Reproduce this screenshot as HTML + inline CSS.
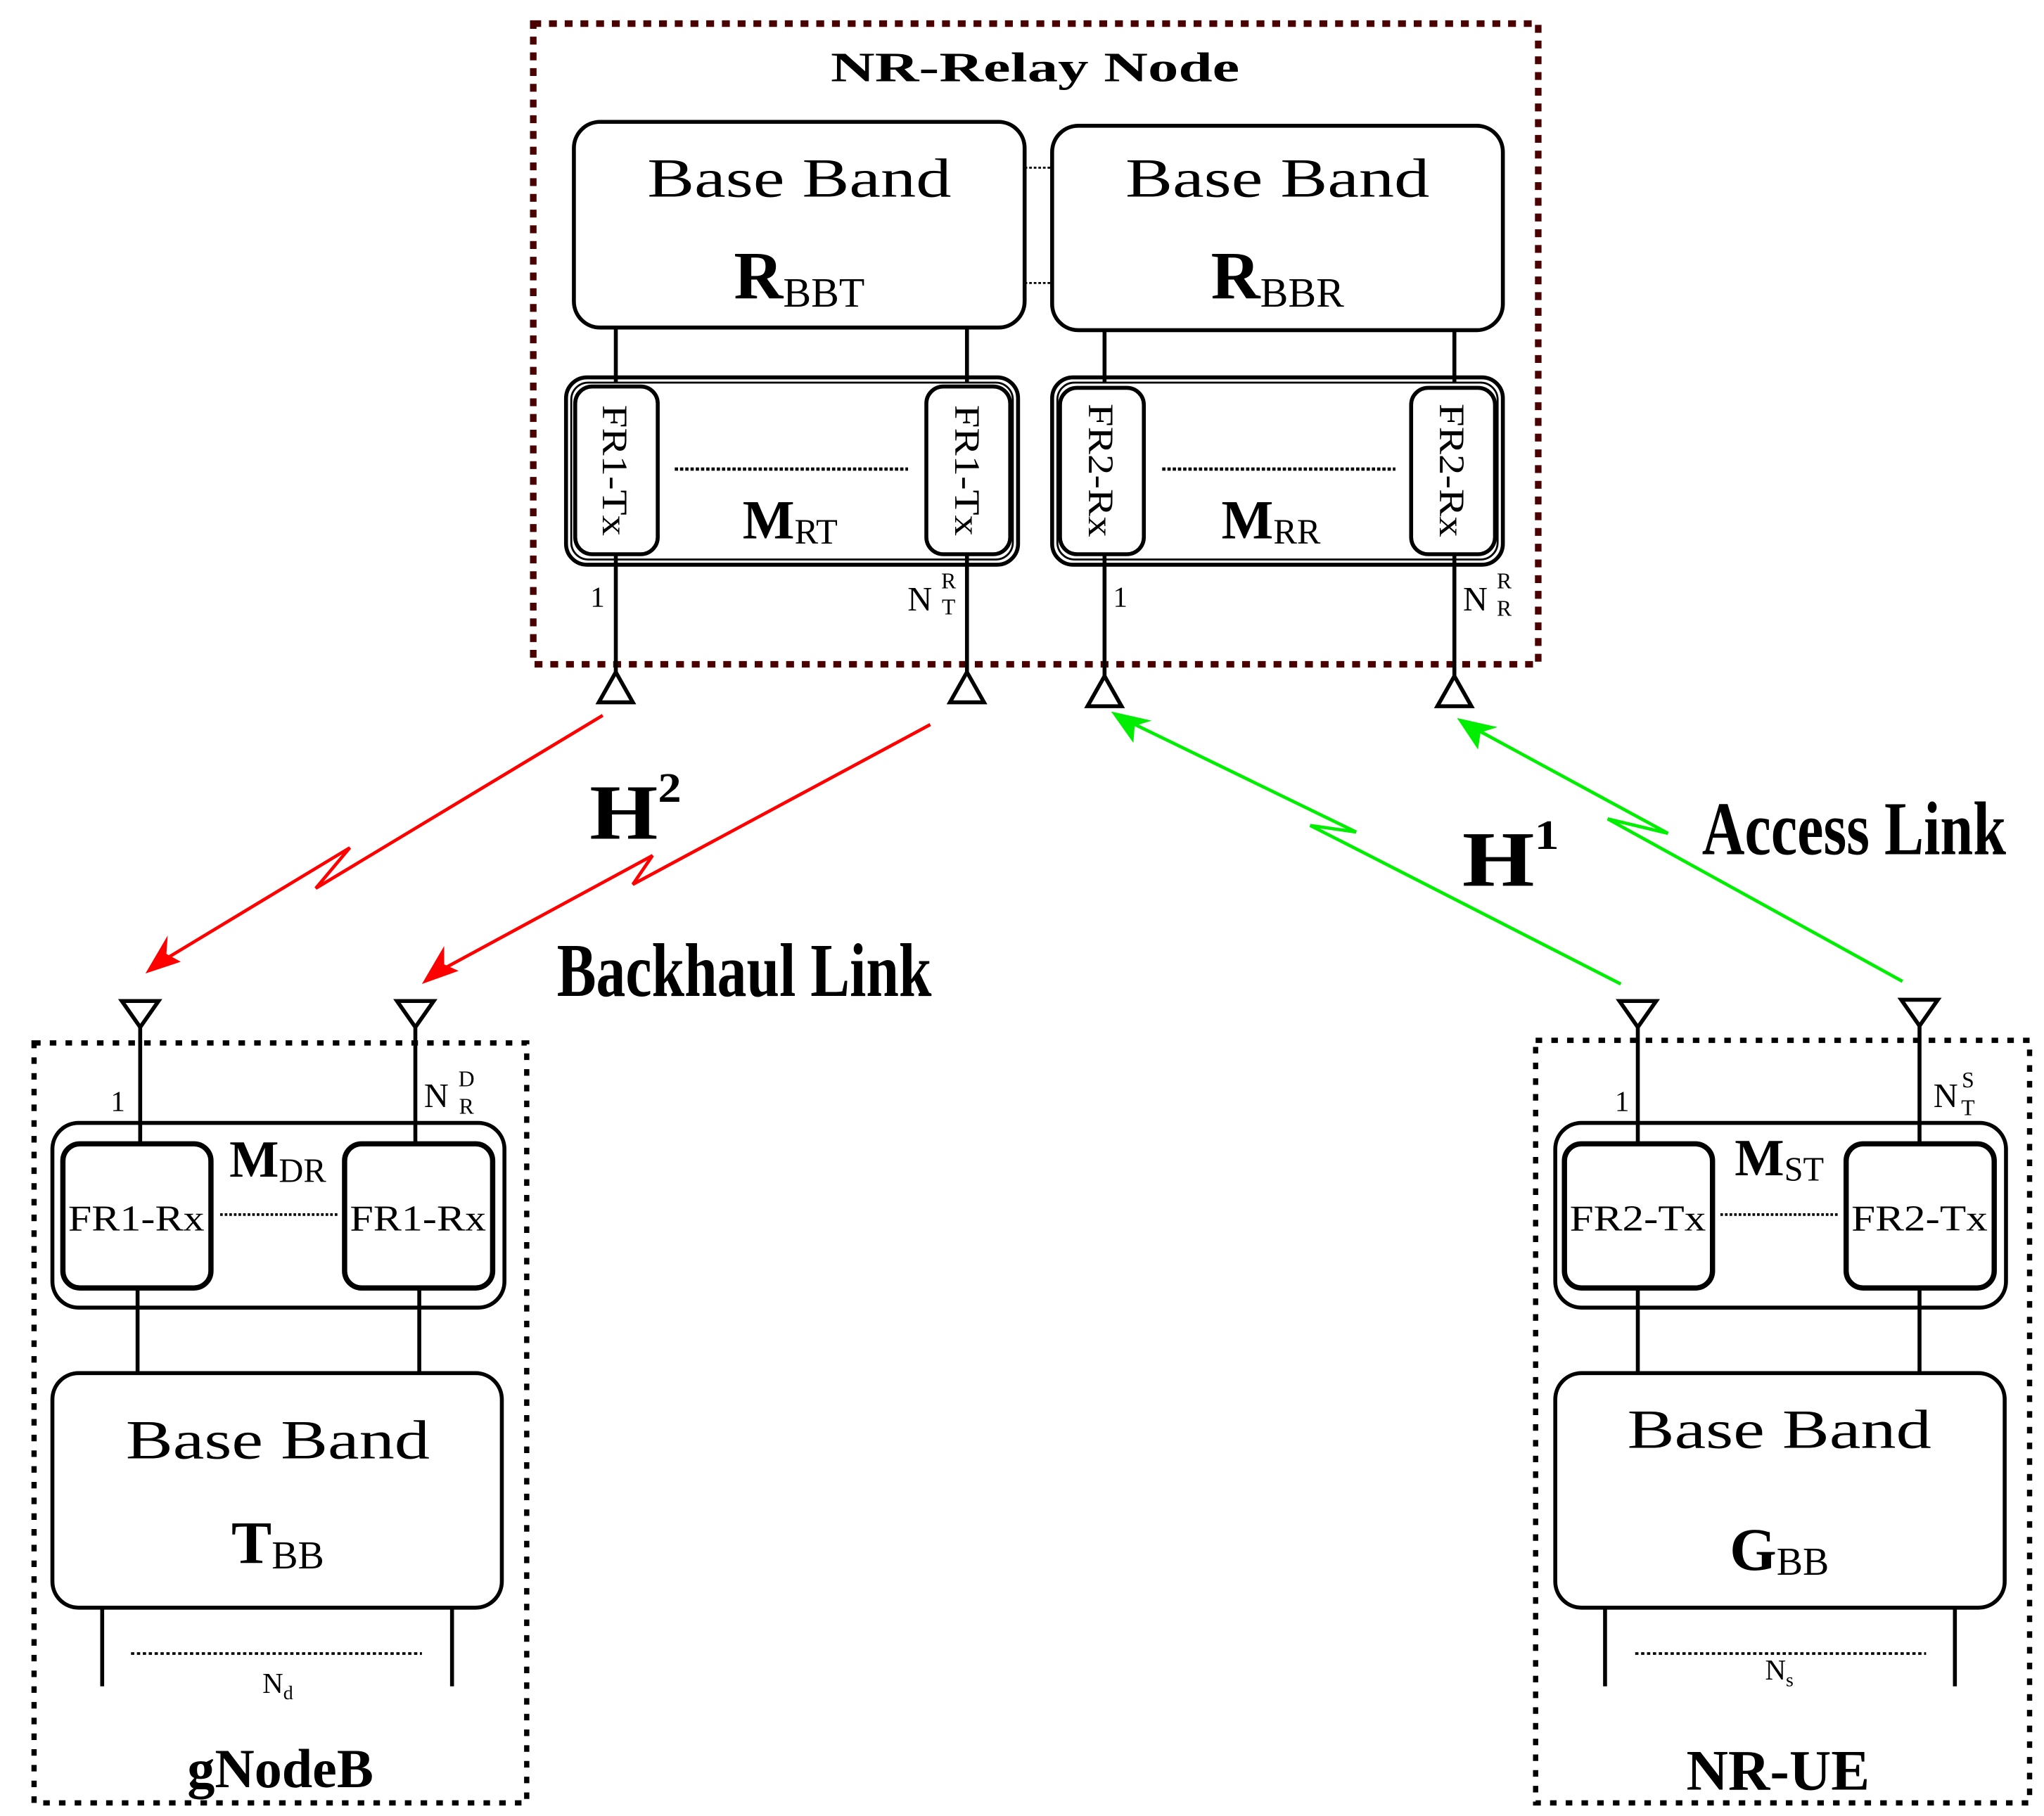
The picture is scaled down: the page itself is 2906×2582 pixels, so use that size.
<!DOCTYPE html>
<html><head><meta charset="utf-8"><style>html,body{margin:0;padding:0;background:#fff}svg{display:block}</style></head>
<body>
<svg width="2906" height="2582" viewBox="0 0 1560 1386" preserveAspectRatio="none" xmlns="http://www.w3.org/2000/svg" font-family="Liberation Serif, serif">
<g fill="none" stroke="#000" stroke-width="3">
<rect x="407" y="18" width="767" height="489" stroke="#4a0000" stroke-width="5" stroke-dasharray="6,6"/>
<rect x="438" y="93" width="344" height="157" rx="20"/>
<rect x="803" y="96" width="344" height="156" rx="20"/>
<line x1="782" y1="128" x2="803" y2="128" stroke-width="1.5" stroke-dasharray="2,1.5"/>
<line x1="782" y1="216" x2="803" y2="216" stroke-width="1.5" stroke-dasharray="2,1.5"/>
<line x1="470" y1="250" x2="470" y2="292"/><line x1="738" y1="250" x2="738" y2="292"/>
<line x1="843" y1="252" x2="843" y2="292"/><line x1="1110" y1="252" x2="1110" y2="292"/>
<rect x="432" y="288" width="345" height="143" rx="16"/>
<rect x="436" y="292" width="337" height="135" rx="13" stroke-width="1.5"/>
<rect x="803" y="288" width="344" height="143" rx="16"/>
<rect x="807" y="292" width="336" height="135" rx="13" stroke-width="1.5"/>
<rect x="439" y="295" width="63" height="128" rx="13"/>
<rect x="707" y="295" width="64" height="128" rx="13"/>
<rect x="809" y="296" width="64" height="127" rx="13"/>
<rect x="1077" y="296" width="64" height="127" rx="13"/>
<line x1="515" y1="358" x2="693" y2="358" stroke-width="2.5" stroke-dasharray="2.5,1.5"/>
<line x1="887" y1="358" x2="1065" y2="358" stroke-width="2.5" stroke-dasharray="2.5,1.5"/>
<line x1="470" y1="423" x2="470" y2="515"/><line x1="738" y1="423" x2="738" y2="515"/>
<line x1="843" y1="423" x2="843" y2="517"/><line x1="1110" y1="423" x2="1110" y2="517"/>
<path d="M470,513 L457,536 L483,536 Z"/><path d="M738,513 L725,536 L751,536 Z"/>
<path d="M843,516 L830,539 L856,539 Z"/><path d="M1110,516 L1097,539 L1123,539 Z"/>

<rect x="26" y="796" width="376" height="580" stroke-width="4" stroke-dasharray="5,7"/>
<path d="M93,764 L121,764 L107,784 Z"/><path d="M303,764 L331,764 L317,784 Z"/>
<line x1="107" y1="784" x2="107" y2="873"/><line x1="317" y1="784" x2="317" y2="873"/>
<rect x="40" y="857" width="345" height="141" rx="20"/>
<rect x="48" y="873" width="113" height="110" rx="13" stroke-width="4"/>
<rect x="263" y="873" width="113" height="110" rx="13" stroke-width="4"/>
<line x1="168" y1="927" x2="258" y2="927" stroke-width="2" stroke-dasharray="2,1.5"/>
<line x1="105" y1="983" x2="105" y2="1048"/><line x1="320" y1="983" x2="320" y2="1048"/>
<rect x="40" y="1048" width="343" height="179" rx="20"/>
<line x1="78" y1="1227" x2="78" y2="1287"/><line x1="345" y1="1227" x2="345" y2="1287"/>
<line x1="100" y1="1262" x2="322" y2="1262" stroke-width="2" stroke-dasharray="2.5,2"/>

<rect x="1172" y="794" width="377" height="582" stroke-width="4" stroke-dasharray="5,7"/>
<path d="M1236,764 L1264,764 L1250,784 Z"/><path d="M1451,763 L1479,763 L1465,783 Z"/>
<line x1="1250" y1="784" x2="1250" y2="873"/><line x1="1465" y1="783" x2="1465" y2="873"/>
<rect x="1187" y="857" width="344" height="141" rx="20"/>
<rect x="1194" y="873" width="113" height="110" rx="13" stroke-width="4"/>
<rect x="1409" y="873" width="113" height="110" rx="13" stroke-width="4"/>
<line x1="1313" y1="927" x2="1403" y2="927" stroke-width="2" stroke-dasharray="2,1.5"/>
<line x1="1250" y1="983" x2="1250" y2="1048"/><line x1="1465" y1="983" x2="1465" y2="1048"/>
<rect x="1187" y="1048" width="343" height="179" rx="20"/>
<line x1="1225" y1="1227" x2="1225" y2="1287"/><line x1="1492" y1="1227" x2="1492" y2="1287"/>
<line x1="1248" y1="1262" x2="1470" y2="1262" stroke-width="2" stroke-dasharray="2.5,2"/>

<polyline points="460,546 241,678 267,647 118,737" stroke="#ff0000" stroke-width="2.5"/>
<polyline points="710,553 483,675 498,653 330,744" stroke="#ff0000" stroke-width="2.5"/>
<polyline points="1237,751 1000,630 1035,635 856,548" stroke="#00ee00" stroke-width="2.5"/>
<polyline points="1452,749 1227,625 1273,636 1120,553" stroke="#00ee00" stroke-width="2.5"/>
</g>
<g stroke="none">
<path d="M111,743 L128,714 L127,728 L138,734 Z" fill="#ff0000"/>
<path d="M322,751 L339,722 L339,736 L350,741 Z" fill="#ff0000"/>
<path d="M848,543 L879,550 L866,554 L865,567 Z" fill="#00ee00"/>
<path d="M1112,548 L1143,555 L1130,559 L1128,572 Z" fill="#00ee00"/>
</g>

<g fill="#000" text-anchor="middle">
<text x="790" y="62" font-size="32" font-weight="bold" textLength="312" lengthAdjust="spacingAndGlyphs">NR-Relay Node</text>
<text x="610" y="150" font-size="42" textLength="232" lengthAdjust="spacingAndGlyphs">Base Band</text>
<text x="975" y="150" font-size="42" textLength="232" lengthAdjust="spacingAndGlyphs">Base Band</text>
<text x="610" y="228" font-size="52" font-weight="bold">R<tspan font-size="32" font-weight="normal" dy="6">BBT</tspan></text>
<text x="975" y="228" font-size="52" font-weight="bold">R<tspan font-size="32" font-weight="normal" dy="6">BBR</tspan></text>
<text transform="translate(460,359) rotate(90)" font-size="27" textLength="100" lengthAdjust="spacingAndGlyphs">FR1-Tx</text>
<text transform="translate(729,359) rotate(90)" font-size="27" textLength="100" lengthAdjust="spacingAndGlyphs">FR1-Tx</text>
<text transform="translate(831,359) rotate(90)" font-size="27" textLength="102" lengthAdjust="spacingAndGlyphs">FR2-Rx</text>
<text transform="translate(1099,359) rotate(90)" font-size="27" textLength="102" lengthAdjust="spacingAndGlyphs">FR2-Rx</text>
<text x="603" y="411" font-size="42" font-weight="bold">M<tspan font-size="27" font-weight="normal" dy="4">RT</tspan></text>
<text x="970" y="411" font-size="42" font-weight="bold">M<tspan font-size="27" font-weight="normal" dy="4">RR</tspan></text>
<text x="456" y="463" font-size="22">1</text>
<text x="855" y="463" font-size="22">1</text>
<text x="702" y="466" font-size="26">N</text><text x="724" y="449" font-size="17">R</text><text x="724" y="469" font-size="17">T</text>
<text x="1126" y="466" font-size="26">N</text><text x="1148" y="449" font-size="17">R</text><text x="1148" y="470" font-size="17">R</text>

<text x="485" y="640" font-size="60" font-weight="bold" textLength="70" lengthAdjust="spacingAndGlyphs">H<tspan font-size="32" dy="-28">2</tspan></text>
<text x="568" y="760" font-size="58" font-weight="bold" textLength="286" lengthAdjust="spacingAndGlyphs">Backhaul Link</text>
<text x="1153" y="676" font-size="60" font-weight="bold" textLength="74" lengthAdjust="spacingAndGlyphs">H<tspan font-size="32" dy="-28">1</tspan></text>
<text x="1415" y="652" font-size="58" font-weight="bold" textLength="232" lengthAdjust="spacingAndGlyphs">Access Link</text>

<text x="90" y="848" font-size="22">1</text>
<text x="333" y="845" font-size="26">N</text><text x="356" y="829" font-size="17">D</text><text x="356" y="850" font-size="17">R</text>
<text x="212" y="898" font-size="40" font-weight="bold">M<tspan font-size="26" font-weight="normal" dy="4">DR</tspan></text>
<text x="104" y="939" font-size="28" textLength="104" lengthAdjust="spacingAndGlyphs">FR1-Rx</text>
<text x="319" y="939" font-size="28" textLength="104" lengthAdjust="spacingAndGlyphs">FR1-Rx</text>
<text x="212" y="1113" font-size="42" textLength="232" lengthAdjust="spacingAndGlyphs">Base Band</text>
<text x="212" y="1193" font-size="46" font-weight="bold">T<tspan font-size="30" font-weight="normal" dy="4">BB</tspan></text>
<text x="212" y="1292" font-size="22">N<tspan font-size="15" dy="5">d</tspan></text>
<text x="214" y="1364" font-size="42" font-weight="bold" textLength="142" lengthAdjust="spacingAndGlyphs">gNodeB</text>

<text x="1238" y="848" font-size="22">1</text>
<text x="1485" y="845" font-size="26">N</text><text x="1502" y="830" font-size="17">S</text><text x="1502" y="851" font-size="17">T</text>
<text x="1358" y="897" font-size="40" font-weight="bold">M<tspan font-size="26" font-weight="normal" dy="4">ST</tspan></text>
<text x="1250" y="939" font-size="28" textLength="104" lengthAdjust="spacingAndGlyphs">FR2-Tx</text>
<text x="1465" y="939" font-size="28" textLength="104" lengthAdjust="spacingAndGlyphs">FR2-Tx</text>
<text x="1358" y="1105" font-size="42" textLength="232" lengthAdjust="spacingAndGlyphs">Base Band</text>
<text x="1358" y="1198" font-size="46" font-weight="bold">G<tspan font-size="30" font-weight="normal" dy="4">BB</tspan></text>
<text x="1358" y="1282" font-size="22">N<tspan font-size="15" dy="5">s</tspan></text>
<text x="1357" y="1366" font-size="44" font-weight="bold" textLength="140" lengthAdjust="spacingAndGlyphs">NR-UE</text>
</g>
</svg>
</body></html>
